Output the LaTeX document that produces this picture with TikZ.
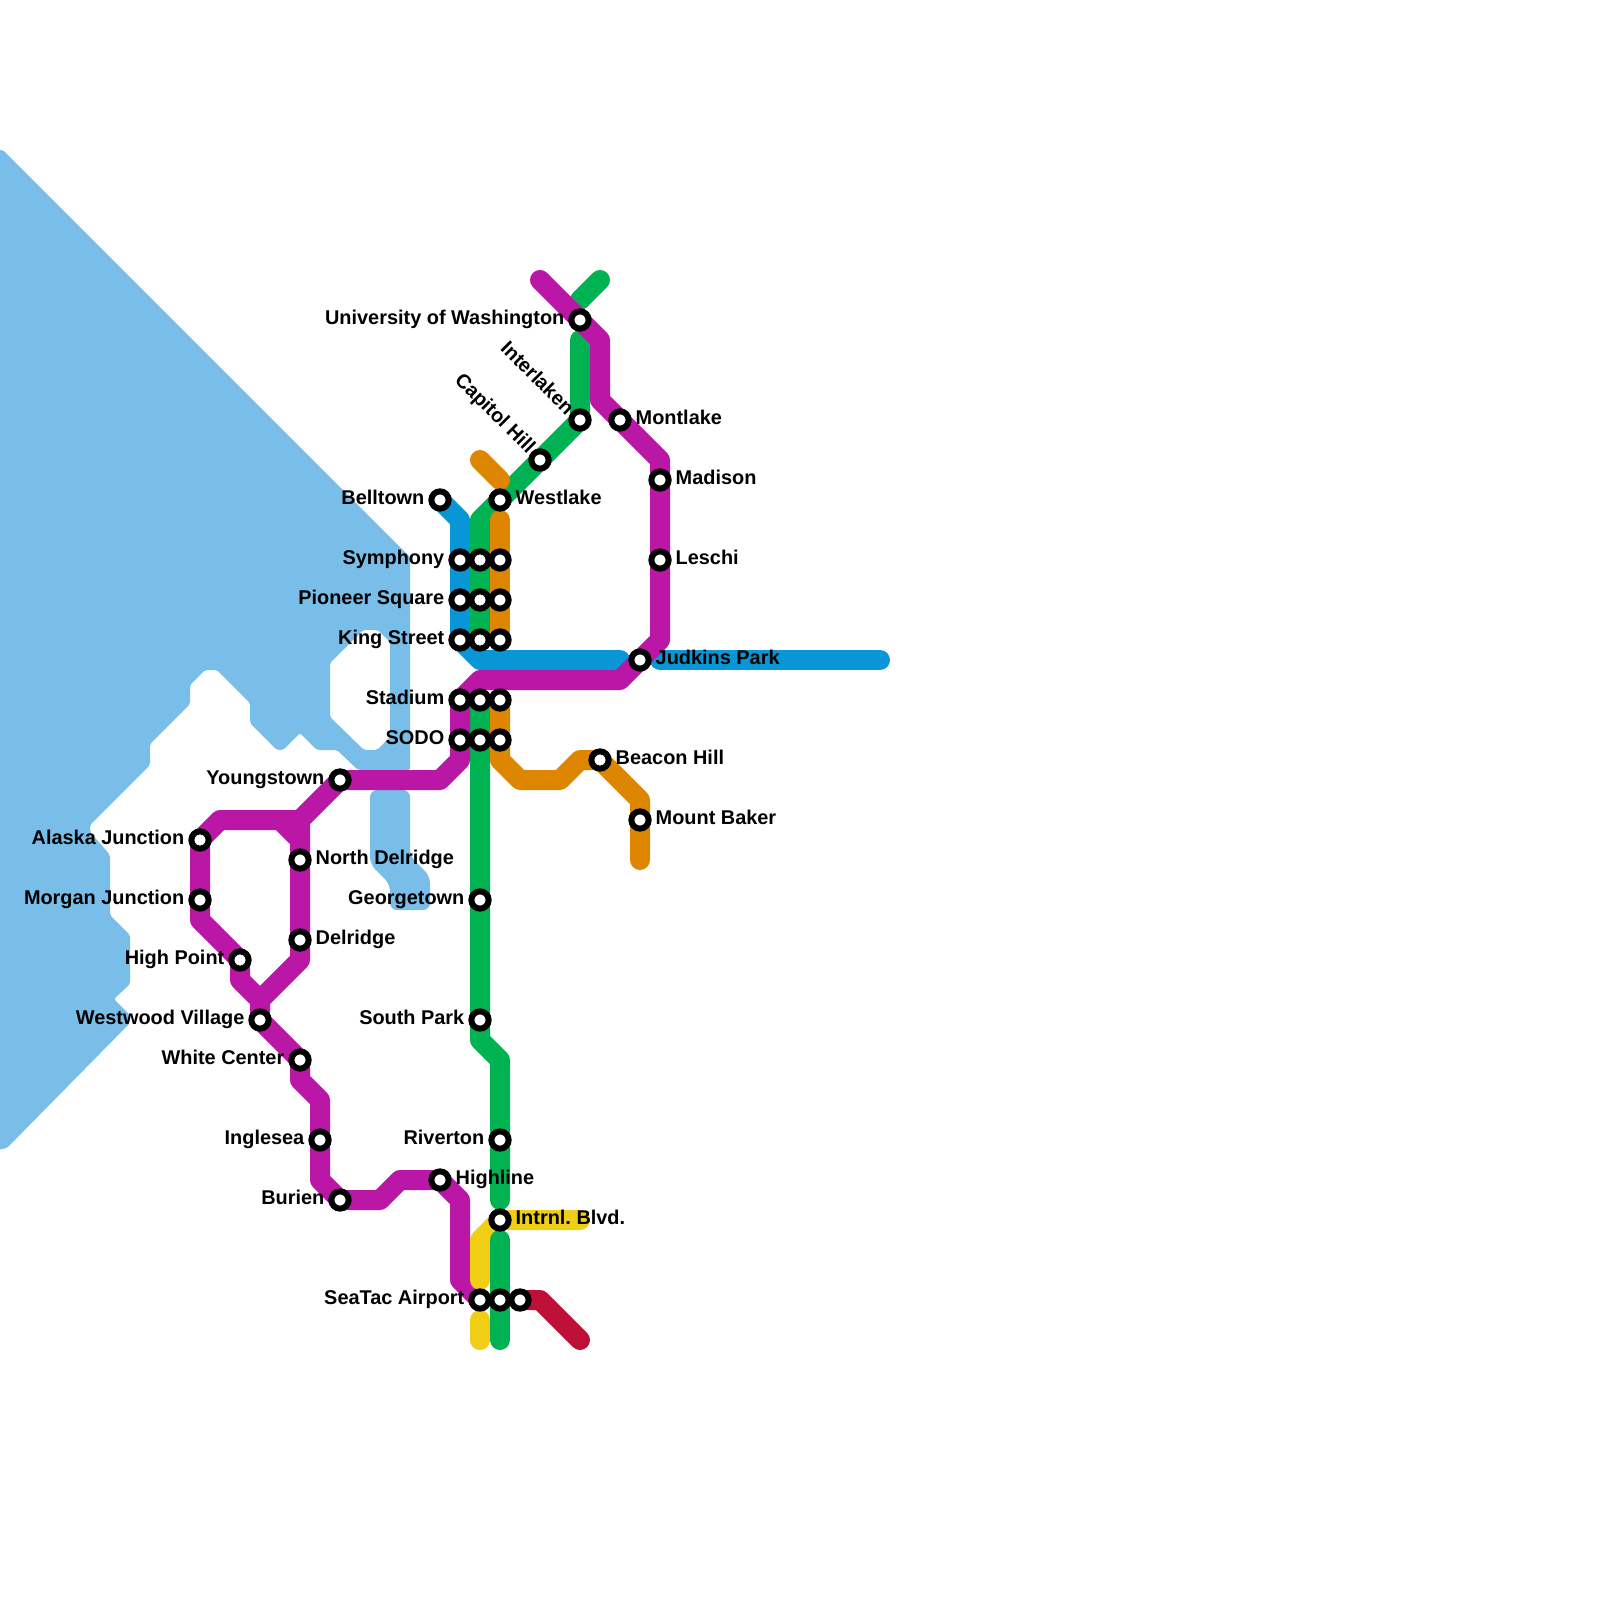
\documentclass[tikz,border=0pt]{standalone}
\usepackage{fontspec}
\setmainfont{Liberation Sans}
\definecolor{water}{HTML}{79BDE9}
\definecolor{cpurple}{HTML}{BB17A6}
\definecolor{cblue}{HTML}{0896D7}
\definecolor{cgreen}{HTML}{00B251}
\definecolor{corange}{HTML}{DF8600}
\definecolor{cyellow}{HTML}{F0CE15}
\definecolor{cred}{HTML}{BD1038}
\tikzset{
  metro/.style={line width=20pt,line cap=round,line join=round},
  stn/.style={circle,draw=black,fill=white,line width=6pt,minimum size=17.3pt,inner sep=0pt,outer sep=0pt},
  lbl/.style={font=\fontsize{19.9}{22}\selectfont\bfseries,inner sep=0pt,text=black},
  lblr/.style={lbl,anchor=base west,xshift=15.5pt,yshift=-4.5pt},
  lbll/.style={lbl,anchor=base east,xshift=-15.5pt,yshift=-4.5pt},
  lbld/.style={lbl,anchor=east,rotate=-45,xshift=-12.5pt,yshift=0pt},
}
\begin{document}
\begin{tikzpicture}[x=1pt,y=-1pt]
\useasboundingbox (0,0) rectangle (1600,1600);
% water
\fill[water,even odd rule,rounded corners=2pt]
 (-3,150) -- (3,150) -- (410,557) -- (410,770) -- (358,770) -- (337,750) -- (317,750) -- (300,733) -- (283,750) -- (277,750)
 -- (250,723) -- (250,703) -- (217,670) -- (205,670) -- (190,685) -- (190,704) -- (150,744) -- (150,765) -- (90,825) -- (90,832) -- (110,855)
 -- (110,915) -- (130,935) -- (130,984) -- (114,999) -- (130,1015) -- (130,1023) -- (7,1148) -- (-3,1150) -- cycle
 (330,663) -- (363,630) -- (378,630) -- (390,642) -- (390,737) -- (377,750) -- (364,750) -- (330,717) -- cycle;
\fill[water,rounded corners=7pt]
 (370,790) -- (410,790) -- (410,856) -- (430,876) -- (430,910) -- (390,910) -- (390,884) -- (370,864) -- cycle;
% station positions
\foreach \n/\x/\y in {belltown/440/500,symb/460/560,symg/480/560,symo/500/560,piob/460/600,piog/480/600,pioo/500/600,
  kingb/460/640,kingg/480/640,kingo/500/640,stadp/460/700,stadg/480/700,stado/500/700,sodop/460/740,sodog/480/740,sodoo/500/740,
  judkins/640/660,westlake/500/500,capitol/540/460,interlaken/580/420,uw/580/320,montlake/620/420,madison/660/480,leschi/660/560,
  beacon/600/760,baker/640/820,youngstown/340/780,alaska/200/840,morgan/200/900,highpoint/240/960,westwood/260/1020,white/300/1060,
  ndel/300/860,delridge/300/940,inglesea/320/1140,burien/340/1200,highline/440/1180,georgetown/480/900,southpark/480/1020,
  riverton/500/1140,intl/500/1220,seay/480/1300,seag/500/1300,sear/520/1300}
  {\coordinate (\n) at (\x,\y);}
\coordinate (pA) at (540,280);
\coordinate (gA) at (600,280);
\coordinate (gB) at (580,300);
\coordinate (gC) at (580,340);
\coordinate (oA) at (480,460);
\coordinate (oB) at (500,480);
\coordinate (oC) at (500,520);
\coordinate (bE) at (620,660);
\coordinate (bF) at (660,660);
\coordinate (bG) at (880,660);
% lines
\draw[metro,cblue] (belltown) -- (460,520) -- (kingb) -- (480,660) -- (bE);
\draw[metro,cblue] (bF) -- (bG);
\draw[metro,cgreen] (gA) -- (gB);
\draw[metro,cgreen] (gC) -- (interlaken) -- (capitol) -- (westlake) -- (480,520) -- (kingg);
\draw[metro,cgreen] (stadg) -- (sodog) -- (georgetown) -- (southpark) -- (480,1040) -- (500,1060) -- (riverton) -- (500,1200);
\draw[metro,corange] (oA) -- (oB);
\draw[metro,corange] (oC) -- (kingo);
\draw[metro,corange] (stado) -- (sodoo) -- (500,760) -- (520,780) -- (560,780) -- (580,760) -- (beacon) -- (640,800) -- (baker) -- (640,860);
\draw[metro,cpurple] (pA) -- (uw) -- (600,340) -- (600,400) -- (montlake) -- (660,460) -- (madison) -- (leschi) -- (660,640) -- (judkins) -- (620,680) -- (480,680)
  -- (stadp) -- (sodop) -- (460,760) -- (440,780) -- (youngstown) -- (300,820) -- (220,820) -- (alaska) -- (morgan) -- (200,920) -- (highpoint) -- (240,980) -- (260,1000)
  -- (westwood) -- (white) -- (300,1080) -- (320,1100) -- (inglesea) -- (320,1180) -- (burien) -- (380,1200) -- (400,1180) -- (highline) -- (460,1200) -- (460,1280) -- (seay);
\draw[metro,cpurple] (260,1000) -- (300,960) -- (delridge) -- (ndel) -- (300,820);
\draw[metro,cpurple] (280,820) -- (300,840);
\draw[metro,cred] (sear) -- (540,1300) -- (580,1340);
\draw[metro,cyellow] (580,1220) -- (intl) -- (480,1240) -- (480,1280);
\draw[metro,cyellow] (480,1320) -- (480,1340);
\draw[metro,cgreen] (500,1240) -- (seag) -- (500,1340);
% stations
\foreach \n in {belltown,symb,symg,symo,piob,piog,pioo,kingb,kingg,kingo,stadp,stadg,stado,sodop,sodog,sodoo,
  judkins,westlake,capitol,interlaken,uw,montlake,madison,leschi,beacon,baker,youngstown,alaska,morgan,highpoint,westwood,white,
  ndel,delridge,inglesea,burien,highline,georgetown,southpark,riverton,intl,seay,seag,sear}
  {\node[stn] (s-\n) at (\n) {};}
% labels
\node[lbll] (t1) at (belltown) {Belltown};
\node[lbll] (t2) at (symb) {Symphony};
\node[lbll] (t3) at (piob) {Pioneer Square};
\node[lbll] (t4) at (kingb) {King Street};
\node[lbll] (t5) at (stadp) {Stadium};
\node[lbll] (t6) at (sodop) {SODO};
\node[lbll] (t7) at (uw) {University of Washington};
\node[lbll] (t8) at (youngstown) {Youngstown};
\node[lbll] (t9) at (alaska) {Alaska Junction};
\node[lbll] (t10) at (morgan) {Morgan Junction};
\node[lbll] (t11) at (highpoint) {High Point};
\node[lbll] (t12) at (westwood) {Westwood Village};
\node[lbll] (t13) at (white) {White Center};
\node[lbll] (t14) at (inglesea) {Inglesea};
\node[lbll] (t15) at (burien) {Burien};
\node[lbll] (t16) at (georgetown) {Georgetown};
\node[lbll] (t17) at (southpark) {South Park};
\node[lbll] (t18) at (riverton) {Riverton};
\node[lbll] (t19) at (seay) {SeaTac Airport};
\node[lblr] (t20) at (westlake) {Westlake};
\node[lblr] (t21) at (montlake) {Montlake};
\node[lblr] (t22) at (madison) {Madison};
\node[lblr] (t23) at (leschi) {Leschi};
\node[lblr] (t24) at (judkins) {Judkins Park};
\node[lblr] (t25) at (beacon) {Beacon Hill};
\node[lblr] (t26) at (baker) {Mount Baker};
\node[lblr] (t27) at (ndel) {North Delridge};
\node[lblr] (t28) at (delridge) {Delridge};
\node[lblr] (t29) at (highline) {Highline};
\node[lblr] (t30) at (intl) {Intrnl.\ Blvd.};
\node[lbld] (t31) at (capitol) {Capitol Hill};
\node[lbld] (t32) at (interlaken) {Interlaken};
\end{tikzpicture}
\end{document}
